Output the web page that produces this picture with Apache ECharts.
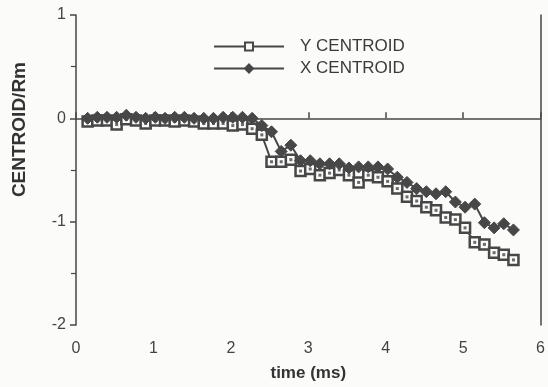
<!DOCTYPE html>
<html>
<head>
<meta charset="utf-8">
<script src="https://cdn.jsdelivr.net/npm/echarts@6/dist/echarts.min.js"></script>
<style>
  html, body { margin: 0; padding: 0; background: #fbfbf9; }
  #chart { width: 548px; height: 387px; }
</style>
</head>
<body>
<div id="chart"></div>
<script>
// sample times (ms)
const times = [0.15, 0.275, 0.4, 0.525, 0.65, 0.775, 0.9, 1.025, 1.15, 1.275,
  1.4, 1.525, 1.65, 1.775, 1.9, 2.025, 2.15, 2.275, 2.4, 2.525,
  2.65, 2.775, 2.9, 3.025, 3.15, 3.275, 3.4, 3.525, 3.65, 3.775,
  3.9, 4.025, 4.15, 4.275, 4.4, 4.525, 4.65, 4.775, 4.9, 5.025,
  5.15, 5.275, 5.4, 5.525, 5.65];

const yCentroid = [-0.03, -0.02, -0.02, -0.06, -0.01, -0.02, -0.05, -0.02, -0.02, -0.03,
  -0.02, -0.03, -0.05, -0.05, -0.05, -0.07, -0.06, -0.10, -0.16, -0.42,
  -0.42, -0.40, -0.51, -0.49, -0.55, -0.53, -0.50, -0.55, -0.62, -0.55,
  -0.57, -0.61, -0.68, -0.76, -0.80, -0.86, -0.89, -0.96, -0.98, -1.06,
  -1.20, -1.22, -1.30, -1.32, -1.37];

const xCentroid = [0.0, 0.01, 0.01, 0.01, 0.03, 0.01, 0.0, 0.01, 0.0, 0.01,
  0.01, 0.0, 0.0, 0.0, 0.01, 0.01, 0.01, 0.0, -0.07, -0.13,
  -0.32, -0.26, -0.41, -0.41, -0.44, -0.44, -0.44, -0.48, -0.47, -0.47,
  -0.47, -0.49, -0.57, -0.62, -0.68, -0.71, -0.73, -0.71, -0.81, -0.86,
  -0.83, -1.01, -1.06, -1.02, -1.08];

const xTicks = [0, 6, 1];
const yTicks = [-2, 1, 1];

const ink = "#474747";
const paper = "#fbfbf9";
const font = "Liberation Sans";

const yPoints = times.map((t, i) => [t, yCentroid[i]]);
const xPoints = times.map((t, i) => [t, xCentroid[i]]);

const chart = echarts.init(document.getElementById("chart"));
chart.setOption({
  backgroundColor: paper,
  animation: false,
  textStyle: { fontFamily: font },
  grid: { left: 76, right: 3, top: 15, bottom: 59 },
  legend: {
    orient: "vertical",
    left: 208,
    top: 33,
    itemWidth: 70,
    itemHeight: 10,
    itemGap: 5,
    textStyle: { fontSize: 17, color: "#3a3a3a", fontFamily: font, padding: [0, 0, 0, 11] },
    data: ["Y CENTROID", "X CENTROID"],
  },
  xAxis: {
    type: "value",
    min: xTicks[0],
    max: xTicks[1],
    interval: xTicks[2],
    name: "time (ms)",
    nameLocation: "middle",
    nameGap: 40,
    nameTextStyle: { fontSize: 17, fontWeight: "bold", color: "#333", fontFamily: font },
    axisLine: { lineStyle: { color: ink, width: 1.5 } },
    axisTick: { inside: true, length: 6, lineStyle: { color: ink, width: 1.5 } },
    axisLabel: { fontSize: 16, color: "#444", margin: 16 },
    splitLine: { show: false },
  },
  yAxis: [
    {
      type: "value",
      min: yTicks[0],
      max: yTicks[1],
      interval: yTicks[2],
      axisLine: { show: true, lineStyle: { color: ink, width: 1.5 } },
      axisTick: { show: true, length: 6, lineStyle: { color: ink, width: 1.5 } },
      minorTick: { show: true, splitNumber: 2, length: 5, lineStyle: { color: ink, width: 1.2 } },
      axisLabel: { fontSize: 16, color: "#444", margin: 10 },
      splitLine: { show: false },
    },
    {
      type: "value",
      position: "right",
      min: yTicks[0],
      max: yTicks[1],
      interval: yTicks[2],
      axisLine: { show: true, lineStyle: { color: ink, width: 1.5 } },
      axisTick: { show: false },
      axisLabel: { show: false },
      splitLine: { show: false },
    },
  ],
  graphic: [
    {
      type: "text",
      left: 10,
      top: 62,
      rotation: Math.PI / 2,
      style: { text: "CENTROID/Rm", fontSize: 19, fontWeight: "bold", fill: "#333", fontFamily: font },
    },
  ],
  series: [
    {
      name: "Y CENTROID",
      type: "line",
      data: yPoints,
      symbol: "rect",
      symbolSize: 10,
      showAllSymbol: true,
      lineStyle: { color: ink, width: 2 },
      itemStyle: { color: paper, borderColor: ink, borderWidth: 2.5 },
    },
    {
      name: "X CENTROID",
      type: "line",
      data: xPoints,
      symbol: "diamond",
      symbolSize: 12,
      showAllSymbol: true,
      lineStyle: { color: ink, width: 2 },
      itemStyle: { color: ink, borderColor: ink, borderWidth: 1 },
    },
    {
      // small dot in the middle of each open square
      name: "Y CENTROID dot",
      type: "scatter",
      data: yPoints,
      symbol: "rect",
      symbolSize: 3,
      z: 10,
      itemStyle: { color: ink },
      silent: true,
    },
  ],
});
</script>
</body>
</html>
